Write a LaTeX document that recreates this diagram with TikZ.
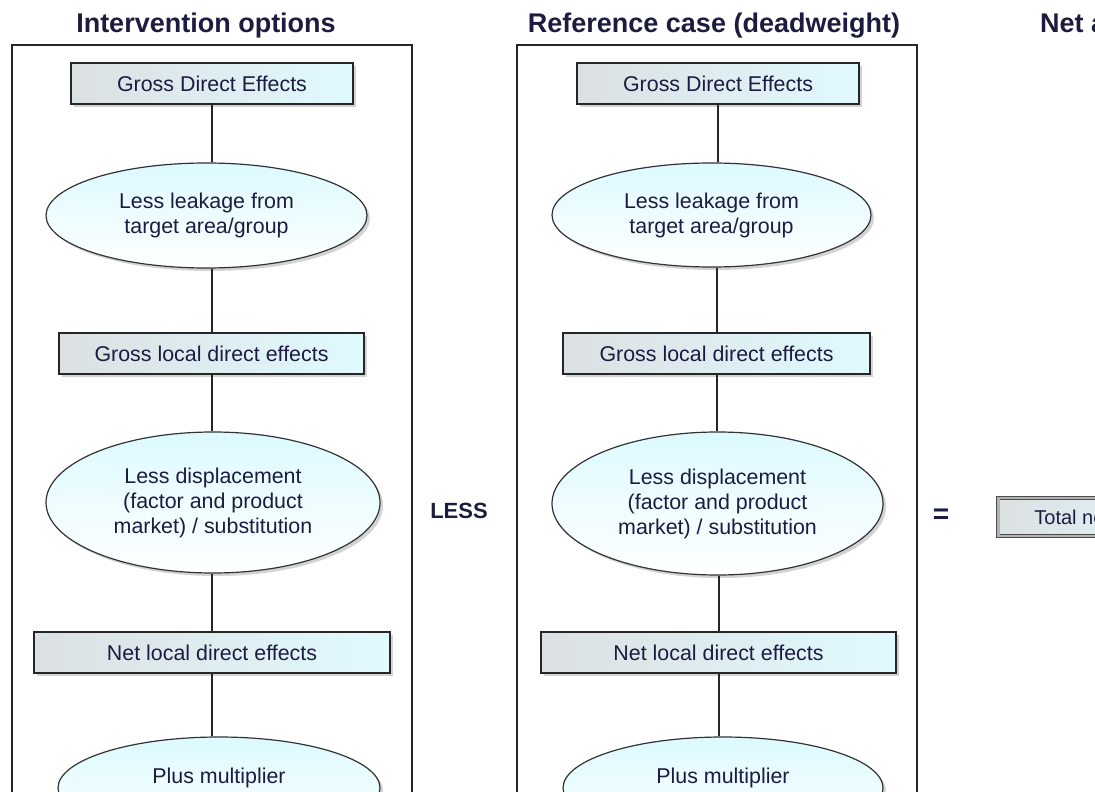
\documentclass[tikz,border=0pt]{standalone}
\usepackage{fontspec}
\setmainfont{Liberation Sans}
\usetikzlibrary{shapes.geometric,shadows}
\definecolor{txtcol}{RGB}{28,28,64}
\definecolor{boxcyan}{RGB}{224,250,255}
\definecolor{boxgrey}{RGB}{220,224,226}
\definecolor{ellcyan}{RGB}{220,250,255}
\begin{document}
\begin{tikzpicture}[x=0.5pt,y=-0.5pt,
  heading/.style={font=\fontsize{13.5}{16}\selectfont\bfseries,text=txtcol,anchor=base},
  effectbox/.style={rectangle,draw=black!85,line width=1pt,inner sep=0pt,minimum height=20.5pt,
    left color=boxgrey,right color=boxcyan,text=txtcol,font=\fontsize{10.7}{12.5}\selectfont,
    drop shadow={shadow xshift=1.5pt,shadow yshift=-1.5pt,opacity=0.35}},
  adjustell/.style={ellipse,draw=black!80,line width=0.6pt,inner sep=0pt,align=center,
    top color=ellcyan,bottom color=white,text=txtcol,font=\fontsize{10.7}{12.5}\selectfont,
    drop shadow={shadow xshift=1.5pt,shadow yshift=-1.5pt,opacity=0.35}},
  panel/.style={draw=black!85,line width=0.8pt},
  joiner/.style={draw=black!85,line width=1pt},
  opword/.style={font=\fontsize{11}{13}\selectfont\bfseries,text=txtcol}]
\useasboundingbox (0,0) rectangle (1095,791);
\clip (0,0) rectangle (1095,791);

\node[heading] (headL) at (206,33) {Intervention options};
\node[heading] (headR) at (714,33) {Reference case (deadweight)};
\node[heading,anchor=base west] (headN) at (1033,33) {Net additional effects};

\draw[panel] (12,830) -- (12,45) -- (412,45) -- (412,830);
\draw[panel] (517,830) -- (517,45) -- (917,45) -- (917,830);

\node[effectbox,minimum width=141pt] (grossL) at (212,83.5) {Gross Direct Effects};
\node[adjustell,minimum width=160.5pt,minimum height=52.5pt] (leakL) at (206.5,215.5) {Less leakage from\\target area/group};
\node[effectbox,minimum width=152.5pt] (localL) at (211.5,353.5) {Gross local direct effects};
\node[adjustell,minimum width=167pt,minimum height=70.5pt] (displL) at (213,502.5) {Less displacement\\(factor and product\\market) / substitution};
\node[effectbox,minimum width=178pt] (netL) at (212,652.5) {Net local direct effects};
\node[adjustell,minimum width=161pt,minimum height=51pt] (multL) at (219,788) {Plus multiplier\\effects};

\node[effectbox,minimum width=141pt] (grossR) at (718,83.5) {Gross Direct Effects};
\node[adjustell,minimum width=159.5pt,minimum height=52pt] (leakR) at (711.5,215) {Less leakage from\\target area/group};
\node[effectbox,minimum width=153.5pt] (localR) at (716.5,353.5) {Gross local direct effects};
\node[adjustell,minimum width=165.5pt,minimum height=71.5pt] (displR) at (717.5,503.5) {Less displacement\\(factor and product\\market) / substitution};
\node[effectbox,minimum width=177.5pt] (netR) at (718.5,652.5) {Net local direct effects};
\node[adjustell,minimum width=160pt,minimum height=51pt] (multR) at (723,788) {Plus multiplier\\effects};

\draw[joiner] (grossL.south) -- (grossL.south |- leakL.north);
\draw[joiner] (localL.north |- leakL.south) -- (localL.north);
\draw[joiner] (localL.south) -- (localL.south |- displL.north);
\draw[joiner] (netL.north |- displL.south) -- (netL.north);
\draw[joiner] (netL.south) -- (netL.south |- multL.north);

\draw[joiner] (grossR.south) -- (grossR.south |- leakR.north);
\draw[joiner] (localR.north |- leakR.south) -- (localR.north);
\draw[joiner] (localR.south) -- (localR.south |- displR.north);
\draw[joiner] (netR.north |- displR.south) -- (netR.north);
\draw[joiner] (netR.south) -- (netR.south |- multR.north);

\node[opword] (less) at (459,511) {LESS};
\node[opword,font=\fontsize{14}{16}\selectfont\bfseries] (equals) at (941,516) {=};
\node[rectangle,anchor=west,draw=black!70,double=black!30,double distance=1.2pt,inner xsep=18pt,
  minimum height=19pt,left color=boxgrey,right color=boxcyan,text=txtcol,
  font=\fontsize{10}{12}\selectfont] (total) at (998,517) {Total net effects};
\end{tikzpicture}
\end{document}
